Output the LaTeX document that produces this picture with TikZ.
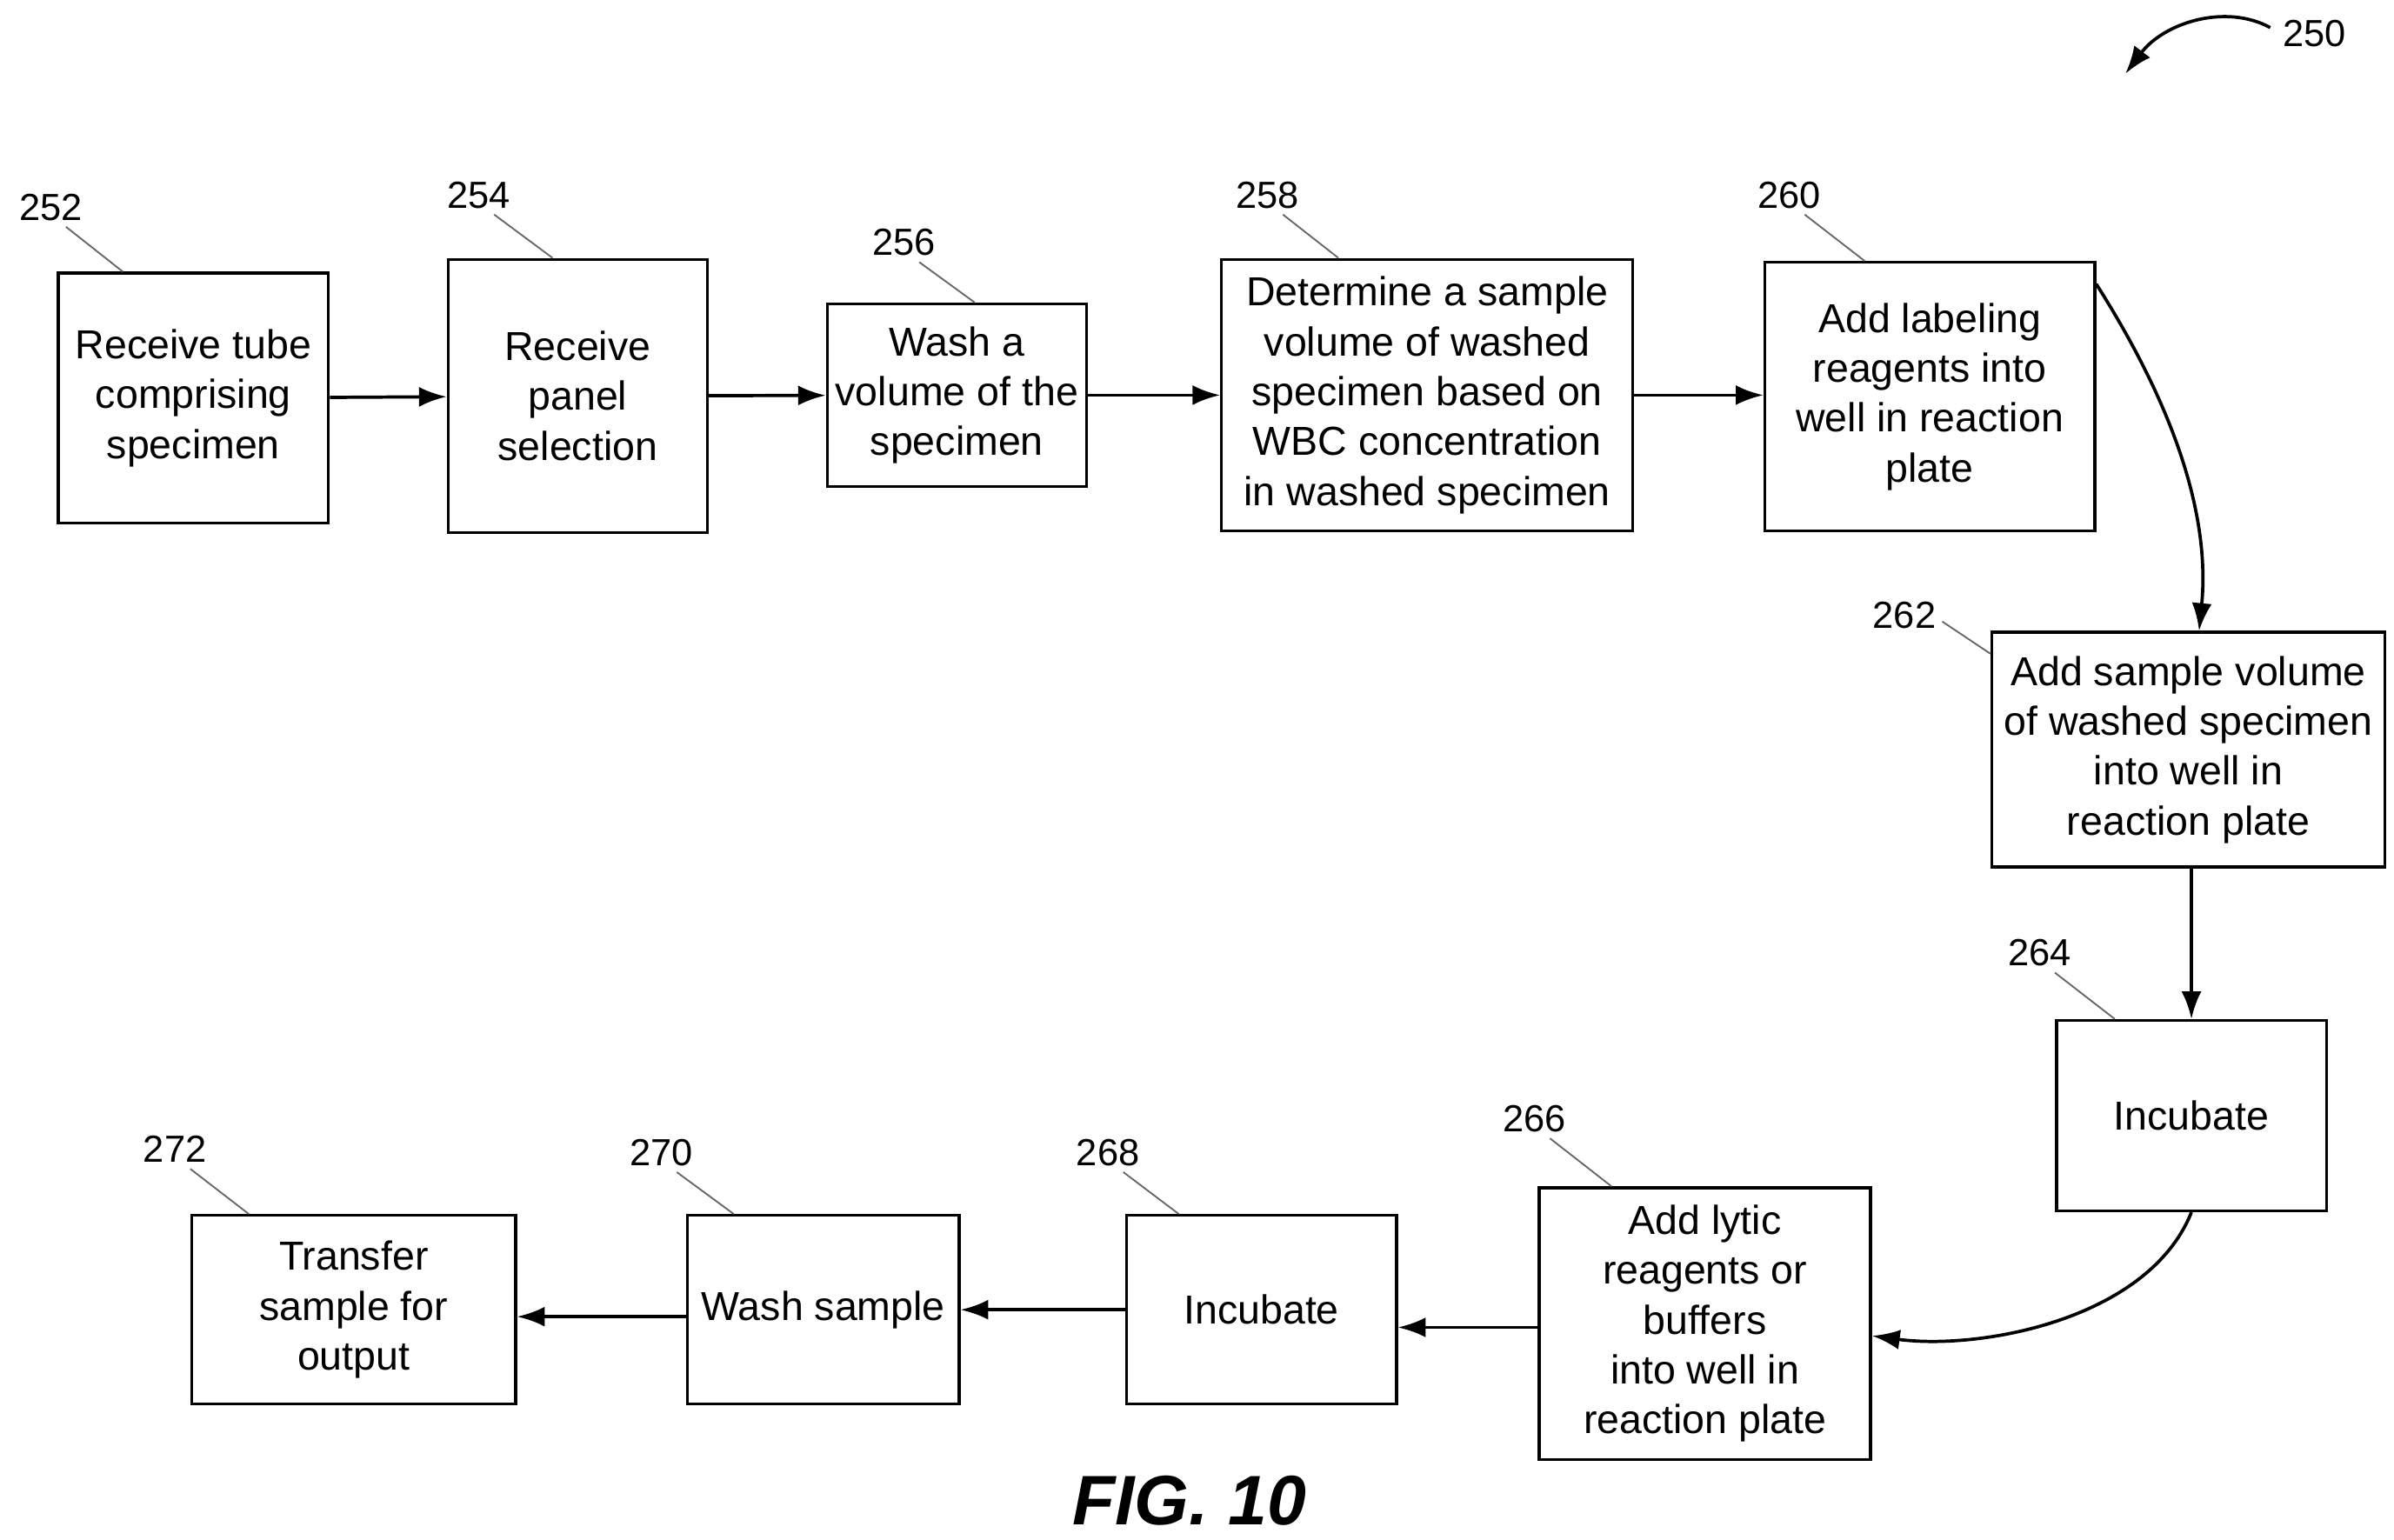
\documentclass[tikz,border=0pt]{standalone}
\usepackage{fontspec}
\setmainfont{Liberation Sans}
\usetikzlibrary{calc,arrows.meta,positioning}
\begin{document}
\begin{tikzpicture}[x=0.02cm,y=-0.02cm]

\tikzset{stepbox/.style={draw=black,line width=1.1pt,inner sep=2pt,align=center,font=\fontsize{15}{18.5}\selectfont},
num/.style={font=\fontsize{14}{16}\selectfont,inner sep=1pt},
leader/.style={draw=black!60,semithick},
flow/.style={-{Latex[length=3.6mm,width=2.6mm]},line width=1.2pt}}

\useasboundingbox (0,0) rectangle (1560,1003);

% Process steps
\node (b252) [stepbox,minimum width=3.52cm,minimum height=3.26cm] at (126,259.5) {Receive tube\\comprising\\specimen};
\node (b254) [stepbox,minimum width=3.38cm,minimum height=3.56cm] at (376.5,258) {Receive\\panel\\selection};
\node (b256) [stepbox,minimum width=3.38cm,minimum height=2.38cm] at (623.5,257.5) {Wash a\\volume of the\\specimen};
\node (b258) [stepbox,minimum width=5.36cm,minimum height=3.54cm] at (930,257.5) {Determine a sample\\volume of washed\\specimen based on\\WBC concentration\\in washed specimen};
\node (b260) [stepbox,minimum width=4.3cm,minimum height=3.5cm] at (1257.5,258.5) {Add labeling\\reagents into\\well in reaction\\plate};
\node (b262) [stepbox,minimum width=5.12cm,minimum height=3.06cm] at (1426,488.5) {Add sample volume\\of washed specimen\\into well in\\reaction plate};
\node (b264) [stepbox,minimum width=3.52cm,minimum height=2.48cm] at (1428,727) {Incubate};
\node (b266) [stepbox,minimum width=4.32cm,minimum height=3.54cm] at (1111,862.5) {Add lytic\\reagents or\\buffers\\into well in\\reaction plate};
\node (b268) [stepbox,minimum width=3.52cm,minimum height=2.46cm] at (822,853.5) {Incubate};
\node (b270) [stepbox,minimum width=3.54cm,minimum height=2.46cm] at (536.5,853.5) {Wash sample};
\node (b272) [stepbox,minimum width=4.22cm,minimum height=2.46cm] at (230.5,853.5) {Transfer\\sample for\\output};

% Reference numerals
\node (l250) [num] at (1508,22) {250};
\node (l252) [num] at (33,135) {252};
\node (l254) [num] at (312,127) {254};
\node (l256) [num] at (589,158) {256};
\node (l258) [num] at (826,127) {258};
\node (l260) [num] at (1166,127) {260};
\node (l262) [num] at (1241,401) {262};
\node (l264) [num] at (1329,621) {264};
\node (l266) [num] at (1000,729) {266};
\node (l268) [num] at (722,751) {268};
\node (l270) [num] at (431,751) {270};
\node (l272) [num] at (114,749) {272};

% Leaders
\draw [leader] (l252.south) ++(10,2) -- ([xshift=0.86cm]b252.north west);
\draw [leader] (l254.south) ++(10,2) -- ([xshift=1.38cm]b254.north west);
\draw [leader] (l256.south) ++(10,2) -- ([xshift=1.94cm]b256.north west);
\draw [leader] (l258.south) ++(10,2) -- ([xshift=1.54cm]b258.north west);
\draw [leader] (l260.south) ++(10,2) -- ([xshift=1.32cm]b260.north west);
\draw [leader] (l262.east) ++(2,4) -- ([yshift=-0.3cm]b262.north west);
\draw [leader] (l264.south) ++(10,2) -- ([xshift=0.78cm]b264.north west);
\draw [leader] (l266.south) ++(10,2) -- ([xshift=0.96cm]b266.north west);
\draw [leader] (l268.south) ++(10,2) -- ([xshift=0.7cm]b268.north west);
\draw [leader] (l270.south) ++(10,2) -- ([xshift=0.62cm]b270.north west);
\draw [leader] (l272.south) ++(10,2) -- ([xshift=0.76cm]b272.north west);
\draw [flow] (l250.west) ++(-6,-4) .. controls (1450,2) and (1410,15) .. (1385,48);

% Flow arrows
\draw [flow] (b252) -- (b254);
\draw [flow] (b254) -- (b256);
\draw [flow] (b256) -- (b258);
\draw [flow] (b258.east) -- (b258.east -| b260.west);
\draw [flow] ([yshift=-0.3cm]b260.north east) .. controls (1420,270) and (1440,340) .. ([xshift=0.14cm]b262.north);
\draw [flow] (b262.south -| b264.north) -- (b264.north);
\draw [flow] (b264.south) .. controls (1400,860) and (1290,880) .. ([yshift=-0.16cm]b266.east);
\draw [flow] (b266.west |- 0,865) -- (b268.east |- 0,865);
\draw [flow] (b268.west) -- (b270.east);
\draw [flow] (b270.west |- 0,858) -- (b272.east |- 0,858);

\node (fig) [font=\fontsize{26}{28}\selectfont\bfseries\itshape] at (775,978) {FIG. 10};

\end{tikzpicture}
\end{document}
